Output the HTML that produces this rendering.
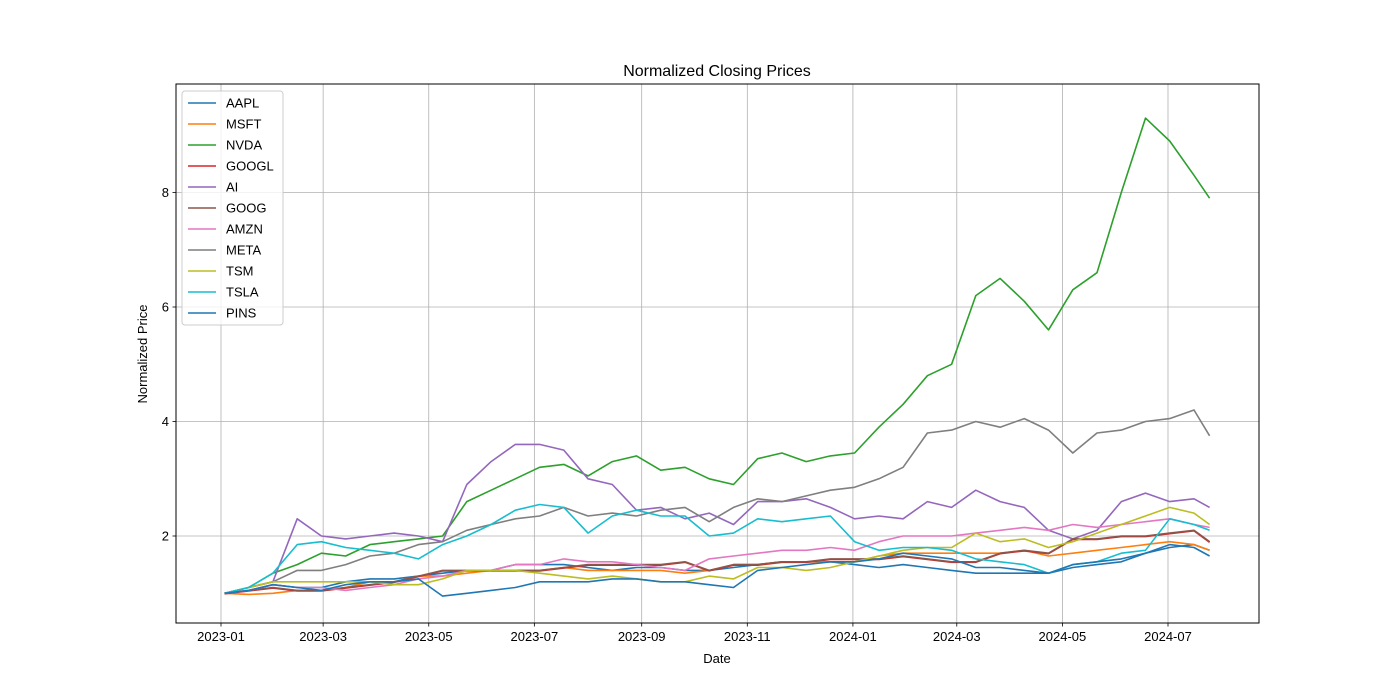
<!DOCTYPE html>
<html><head><meta charset="utf-8"><style>
body{margin:0;background:#fff}
svg{display:block;font-family:"Liberation Sans","DejaVu Sans",sans-serif}
</style></head><body>
<svg id="chart" width="1400" height="700" viewBox="0 0 1400 700" xmlns="http://www.w3.org/2000/svg">
<rect x="0" y="0" width="1400" height="700" fill="#fff"/>
<text x="717" y="76" font-size="16" text-anchor="middle">Normalized Closing Prices</text>
<text x="717" y="663" font-size="13" text-anchor="middle">Date</text>
<text x="147" y="354" font-size="13" text-anchor="middle" transform="rotate(-90 147 354)">Normalized Price</text>
<g id="grid"></g><g id="series"></g><g id="axes"></g><g id="legend"></g>
</svg>
<script>
const days=[2,16,30,44,58,72,86,100,114,128,142,156,170,184,198,212,226,240,254,268,282,296,310,324,338,352,366,380,394,408,422,436,450,464,478,492,506,520,534,548,562,571];
const names=["AAPL","MSFT","NVDA","GOOGL","AI","GOOG","AMZN","META","TSM","TSLA","PINS"];
const colors=["#1f77b4","#ff7f0e","#2ca02c","#d62728","#9467bd","#8c564b","#e377c2","#7f7f7f","#bcbd22","#17becf","#1f77b4"];
const AAPL=[1.0,1.05,1.15,1.1,1.1,1.2,1.25,1.25,1.3,1.35,1.4,1.4,1.5,1.5,1.5,1.45,1.4,1.45,1.45,1.4,1.4,1.45,1.5,1.55,1.55,1.55,1.5,1.45,1.5,1.45,1.4,1.35,1.35,1.35,1.35,1.45,1.5,1.55,1.7,1.8,1.85,1.75];
const MSFT=[1.0,0.98,1.0,1.05,1.05,1.1,1.2,1.2,1.3,1.3,1.35,1.4,1.4,1.4,1.45,1.4,1.4,1.4,1.4,1.35,1.4,1.5,1.5,1.55,1.55,1.55,1.55,1.65,1.7,1.7,1.7,1.7,1.7,1.75,1.65,1.7,1.75,1.8,1.85,1.9,1.85,1.75];
const NVDA=[1.0,1.1,1.35,1.5,1.7,1.65,1.85,1.9,1.95,2.0,2.6,2.8,3.0,3.2,3.25,3.05,3.3,3.4,3.15,3.2,3.0,2.9,3.35,3.45,3.3,3.4,3.45,3.9,4.3,4.8,5.0,6.2,6.5,6.1,5.6,6.3,6.6,8.0,9.3,8.9,8.3,7.9];
const GOOGL=[0.99,1.04,1.09,1.04,1.04,1.09,1.14,1.19,1.29,1.39,1.39,1.39,1.39,1.39,1.44,1.49,1.49,1.49,1.49,1.54,1.39,1.49,1.49,1.54,1.54,1.59,1.59,1.59,1.64,1.59,1.54,1.54,1.69,1.74,1.69,1.94,1.94,1.99,1.99,2.04,2.09,1.89];
const AI=[1.0,1.1,1.2,2.3,2.0,1.95,2.0,2.05,2.0,1.9,2.9,3.3,3.6,3.6,3.5,3.0,2.9,2.45,2.5,2.3,2.4,2.2,2.6,2.6,2.65,2.5,2.3,2.35,2.3,2.6,2.5,2.8,2.6,2.5,2.1,1.95,2.1,2.6,2.75,2.6,2.65,2.5];
const GOOG=[1.0,1.05,1.1,1.05,1.05,1.1,1.15,1.2,1.3,1.4,1.4,1.4,1.4,1.4,1.45,1.5,1.5,1.5,1.5,1.55,1.4,1.5,1.5,1.55,1.55,1.6,1.6,1.6,1.65,1.6,1.55,1.55,1.7,1.75,1.7,1.95,1.95,2.0,2.0,2.05,2.1,1.9];
const AMZN=[1.0,1.05,1.15,1.1,1.1,1.05,1.1,1.15,1.25,1.3,1.4,1.4,1.5,1.5,1.6,1.55,1.55,1.5,1.45,1.4,1.6,1.65,1.7,1.75,1.75,1.8,1.75,1.9,2.0,2.0,2.0,2.05,2.1,2.15,2.1,2.2,2.15,2.2,2.25,2.3,2.2,2.15];
const META=[1.0,1.1,1.2,1.4,1.4,1.5,1.65,1.7,1.85,1.9,2.1,2.2,2.3,2.35,2.5,2.35,2.4,2.35,2.45,2.5,2.25,2.5,2.65,2.6,2.7,2.8,2.85,3.0,3.2,3.8,3.85,4.0,3.9,4.05,3.85,3.45,3.8,3.85,4.0,4.05,4.2,3.75];
const TSM=[1.0,1.1,1.2,1.2,1.2,1.2,1.2,1.15,1.15,1.25,1.4,1.4,1.4,1.35,1.3,1.25,1.3,1.25,1.2,1.2,1.3,1.25,1.45,1.45,1.4,1.45,1.55,1.65,1.75,1.8,1.8,2.05,1.9,1.95,1.8,1.9,2.05,2.2,2.35,2.5,2.4,2.2];
const TSLA=[1.0,1.1,1.35,1.85,1.9,1.8,1.75,1.7,1.6,1.85,2.0,2.2,2.45,2.55,2.5,2.05,2.35,2.45,2.35,2.35,2.0,2.05,2.3,2.25,2.3,2.35,1.9,1.75,1.8,1.8,1.75,1.6,1.55,1.5,1.35,1.5,1.55,1.7,1.75,2.3,2.2,2.1];
const PINS=[1.0,1.05,1.15,1.1,1.05,1.15,1.2,1.2,1.25,0.95,1.0,1.05,1.1,1.2,1.2,1.2,1.25,1.25,1.2,1.2,1.15,1.1,1.4,1.45,1.5,1.55,1.55,1.6,1.7,1.65,1.6,1.45,1.45,1.4,1.35,1.5,1.55,1.6,1.7,1.85,1.8,1.65];
const seriesData=[AAPL,MSFT,NVDA,GOOGL,AI,GOOG,AMZN,META,TSM,TSLA,PINS];
const xTickLabels=["2023-01","2023-03","2023-05","2023-07","2023-09","2023-11","2024-01","2024-03","2024-05","2024-07"];
const xTickDays=[0,59,120,181,243,304,365,425,486,547];
const yTicks=[2,4,6,8];

const NS="http://www.w3.org/2000/svg";
const L=176,R=1259,T=84,B=623;
function xs(d){return 221+d*947/547;}
function ys(v){return 650.5-v*57.25;}
function mk(tag,attrs,parent){const e=document.createElementNS(NS,tag);for(const k in attrs)e.setAttribute(k,attrs[k]);parent.appendChild(e);return e;}
const grid=document.getElementById('grid'),axes=document.getElementById('axes'),ser=document.getElementById('series'),leg=document.getElementById('legend');
xTickDays.forEach((d,i)=>{const x=xs(d);
 const g=mk('line',{x1:x,x2:x,y1:T,y2:B,stroke:'#b0b0b0','stroke-width':0.8},grid);
 
 
 mk('line',{x1:x,x2:x,y1:B,y2:B+3.5,stroke:'#000','stroke-width':0.8},axes);
 const t=mk('text',{x:x,y:B+18,'font-size':13,'text-anchor':'middle'},axes);t.textContent=xTickLabels[i];
 
 
});
yTicks.forEach(v=>{const y=ys(v);
 const g=mk('line',{x1:L,x2:R,y1:y,y2:y,stroke:'#b0b0b0','stroke-width':0.8},grid);
 
 
 mk('line',{x1:L-3.5,x2:L,y1:y,y2:y,stroke:'#000','stroke-width':0.8},axes);
 const t=mk('text',{x:L-7,y:y+4.5,'font-size':13,'text-anchor':'end'},axes);t.textContent=String(v);
 
 
});
const frame=mk('rect',{x:L,y:T,width:R-L,height:B-T,fill:'none',stroke:'#000','stroke-width':1},axes);


seriesData.forEach((arr,i)=>{
 const pts=arr.map((v,j)=>xs(days[j]).toFixed(1)+','+ys(v).toFixed(1)).join(' ');
 const p=mk('polyline',{points:pts,fill:'none',stroke:colors[i],'stroke-width':1.6,'stroke-linejoin':'round'},ser);
 
 
});
const lb=mk('rect',{x:182,y:91,width:101,height:234,rx:3,fill:'#fff','fill-opacity':0.8,stroke:'#ccc'},leg);


names.forEach((n,i)=>{const y=103+i*21;
 const g=mk('g',{},leg);
 
 
 mk('line',{x1:188,x2:216,y1:y,y2:y,stroke:colors[i],'stroke-width':1.6},g);
 const t=mk('text',{x:226,y:y+4.5,'font-size':13},g);t.textContent=n;
});
</script>
</body></html>
